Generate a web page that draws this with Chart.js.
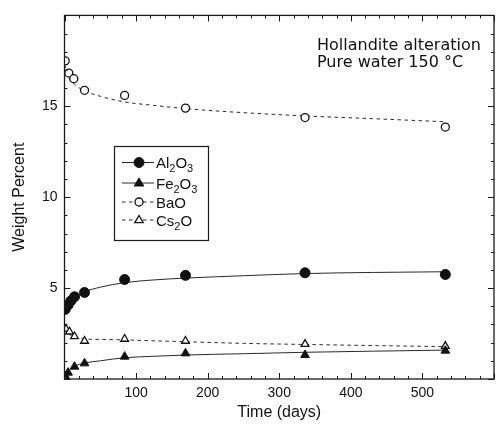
<!DOCTYPE html>
<html>
<head>
<meta charset="utf-8">
<script src="https://cdn.jsdelivr.net/npm/chart.js@4/dist/chart.umd.min.js"></script>
<style>
  html, body { margin: 0; padding: 0; background: #fff; overflow: hidden; }
  #wrap { position: relative; width: 496px; height: 425px; overflow: hidden; }
  canvas { display: block; }
</style>
</head>
<body>
<div id="wrap"><canvas id="c" width="500" height="425"></canvas></div>
<script>
// ---- Data ----
const xTickLabels = [100, 200, 300, 400, 500];
const yTickLabels = [5, 10, 15];

const alDays = [1, 5, 9, 14, 28, 84, 169, 336, 532];
const alValues = [3.83, 4.07, 4.30, 4.52, 4.76, 5.47, 5.70, 5.84, 5.75];

const feDays = [1, 5, 14, 28, 84, 169, 336, 532];
const feValues = [0.16, 0.35, 0.68, 0.86, 1.23, 1.41, 1.32, 1.56];

const baDays = [1, 6, 13, 28, 84, 169, 336, 532];
const baValues = [17.5, 16.83, 16.52, 15.88, 15.6, 14.9, 14.38, 13.86];

const csDays = [2, 7, 14, 28, 84, 169, 336, 532];
const csValues = [2.75, 2.6, 2.34, 2.09, 2.2, 2.09, 1.92, 1.81];

// fitted curves
const fitDays = [0, 3, 7, 14, 28, 50, 84, 125, 169, 250, 336, 430, 532];
const alFit = [3.85, 4.1, 4.3, 4.52, 4.8, 5.05, 5.3, 5.45, 5.55, 5.68, 5.8, 5.86, 5.9];
const feFit = [0.05, 0.3, 0.5, 0.7, 0.88, 1.0, 1.17, 1.25, 1.32, 1.39, 1.47, 1.53, 1.59];
const baFit = [17.3, 16.9, 16.5, 16.2, 15.85, 15.55, 15.24, 15.05, 14.87, 14.65, 14.47, 14.32, 14.15];
const csFit = [2.8, 2.6, 2.45, 2.3, 2.2, 2.18, 2.15, 2.1, 2.05, 1.96, 1.9, 1.84, 1.78];

const seriesNames = ['Al₂O₃', 'Fe₂O₃', 'BaO', 'Cs₂O'];
const noteLines = ['Hollandite alteration', 'Pure water 150 °C'];

// ---- helpers ----
const toXY = (xs, ys) => xs.map((x, i) => ({ x: x, y: ys[i] }));
const LINE = '#2a2a2a';
const FONT = "'Liberation Sans', Arial, sans-serif";
const SUBS = { '₀':'0','₁':'1','₂':'2','₃':'3','₄':'4','₅':'5','₆':'6','₇':'7','₈':'8','₉':'9' };

function fitSet(label, xs, ys, dashed) {
  return {
    type: 'line', label: label, data: toXY(xs, ys),
    borderColor: LINE, borderWidth: 1, borderDash: dashed ? [3.5, 3.5] : [],
    pointRadius: 0, fill: false, cubicInterpolationMode: 'monotone', order: 2
  };
}
function markSet(label, xs, ys, style, filled, radius) {
  return {
    type: 'scatter', label: label, data: toXY(xs, ys), showLine: false,
    pointStyle: style, pointRadius: radius, pointHoverRadius: radius,
    pointBackgroundColor: filled ? '#111' : '#fff',
    pointBorderColor: '#111', pointBorderWidth: filled ? 1 : 1.3, order: 1
  };
}

const datasets = [
  fitSet('Al fit', fitDays, alFit, false),
  fitSet('Fe fit', fitDays, feFit, false),
  fitSet('Ba fit', fitDays, baFit, true),
  fitSet('Cs fit', fitDays, csFit, true),
  markSet(seriesNames[0], alDays, alValues, 'circle', true, 5),
  markSet(seriesNames[1], feDays, feValues, 'triangle', true, 5),
  markSet(seriesNames[2], baDays, baValues, 'circle', false, 4),
  markSet(seriesNames[3], csDays, csValues, 'triangle', false, 4.5)
];

// draw a label, lowering subscript digits
function drawRich(ctx, text, x, baseY) {
  let cx = x;
  for (const ch of text) {
    if (SUBS[ch]) {
      ctx.font = "11px " + FONT;
      ctx.fillText(SUBS[ch], cx, baseY + 4);
      cx += ctx.measureText(SUBS[ch]).width;
    } else {
      ctx.font = "15px " + FONT;
      ctx.fillText(ch, cx, baseY);
      cx += ctx.measureText(ch).width;
    }
  }
}

// frame + inward ticks on all four sides
const framePlugin = {
  id: 'frame',
  afterDraw(chart) {
    const { ctx, chartArea: a, scales: { x, y } } = chart;
    ctx.save();
    ctx.strokeStyle = '#1a1a1a';
    ctx.lineWidth = 1.3;
    ctx.strokeRect(a.left, a.top, a.right - a.left, a.bottom - a.top);
    ctx.lineWidth = 1;
    for (let v = 0; v <= x.max; v += 20) {
      const px = Math.round(x.getPixelForValue(v)) + 0.5;
      const len = (v % 100 === 0) ? 6 : 3;
      ctx.beginPath();
      ctx.moveTo(px, a.bottom); ctx.lineTo(px, a.bottom - len);
      ctx.moveTo(px, a.top); ctx.lineTo(px, a.top + len);
      ctx.stroke();
    }
    for (let v = 0; v <= y.max; v += 1) {
      const py = Math.round(y.getPixelForValue(v)) + 0.5;
      const len = (v % 5 === 0) ? 6 : 3;
      ctx.beginPath();
      ctx.moveTo(a.left, py); ctx.lineTo(a.left + len, py);
      ctx.moveTo(a.right, py); ctx.lineTo(a.right - len, py);
      ctx.stroke();
    }
    // annotation
    ctx.fillStyle = '#111';
    ctx.font = "16px 'DejaVu Sans', sans-serif";
    ctx.textBaseline = 'alphabetic';
    ctx.textAlign = 'left';
    ctx.fillText(noteLines[0], 317, 50);
    ctx.fillText(noteLines[1], 317, 67);
    ctx.restore();
  }
};

// legend box inside the plot
const legendPlugin = {
  id: 'boxLegend',
  afterDraw(chart) {
    const { ctx } = chart;
    const box = { l: 114.5, t: 146.5, r: 208.5, b: 240.5 };
    const rows = [162.5, 183, 202, 220];
    ctx.save();
    ctx.fillStyle = '#fff';
    ctx.fillRect(box.l, box.t, box.r - box.l, box.b - box.t);
    ctx.strokeStyle = '#1a1a1a';
    ctx.lineWidth = 1.2;
    ctx.strokeRect(box.l, box.t, box.r - box.l, box.b - box.t);
    for (let i = 0; i < 4; i++) {
      const fit = chart.data.datasets[i];
      const mk = chart.data.datasets[i + 4];
      const yy = rows[i];
      ctx.beginPath();
      ctx.strokeStyle = LINE;
      ctx.lineWidth = 1;
      ctx.setLineDash(fit.borderDash);
      ctx.moveTo(122, yy); ctx.lineTo(154, yy);
      ctx.stroke();
      ctx.setLineDash([]);
      ctx.fillStyle = mk.pointBackgroundColor;
      ctx.strokeStyle = mk.pointBorderColor;
      ctx.lineWidth = mk.pointBorderWidth;
      ctx.beginPath();
      if (mk.pointStyle === 'circle') {
        ctx.arc(139, yy, mk.pointRadius, 0, Math.PI * 2);
      } else {
        const r = mk.pointRadius;
        ctx.moveTo(139, yy - r);
        ctx.lineTo(139 + r * 0.95, yy + r * 0.6);
        ctx.lineTo(139 - r * 0.95, yy + r * 0.6);
        ctx.closePath();
      }
      ctx.fill(); ctx.stroke();
      ctx.fillStyle = '#111';
      ctx.textAlign = 'left';
      ctx.textBaseline = 'alphabetic';
      drawRich(ctx, mk.label, 156, yy + 5.5);
    }
    ctx.restore();
  }
};

new Chart(document.getElementById('c'), {
  data: { datasets: datasets },
  options: {
    responsive: false,
    animation: false,
    devicePixelRatio: 1,
    layout: { padding: { top: 15, right: 2, left: 0, bottom: 0 } },
    plugins: { legend: { display: false }, tooltip: { enabled: false } },
    scales: {
      x: {
        type: 'linear', min: 0, max: 600,
        afterFit(s) { s.height = 46; },
        grid: { display: false, drawTicks: false },
        border: { display: false },
        ticks: {
          stepSize: 100, padding: 6, color: '#111', maxRotation: 0,
          font: { family: FONT, size: 14 },
          callback: v => xTickLabels.includes(v) ? String(v) : ''
        },
        title: {
          display: true, text: 'Time (days)', color: '#111',
          font: { family: FONT, size: 16 }, padding: { top: 0, bottom: 3 }
        }
      },
      y: {
        type: 'linear', min: 0, max: 20,
        afterFit(s) { s.width = 64.5; },
        grid: { display: false, drawTicks: false },
        border: { display: false },
        ticks: {
          stepSize: 5, padding: 7, color: '#111',
          font: { family: FONT, size: 14 },
          callback: v => yTickLabels.includes(v) ? String(v) : ''
        },
        title: {
          display: true, text: 'Weight Percent', color: '#111',
          font: { family: FONT, size: 16 }, padding: { top: 10, bottom: 0 }
        }
      }
    }
  },
  plugins: [framePlugin, legendPlugin]
});
</script>
</body>
</html>
